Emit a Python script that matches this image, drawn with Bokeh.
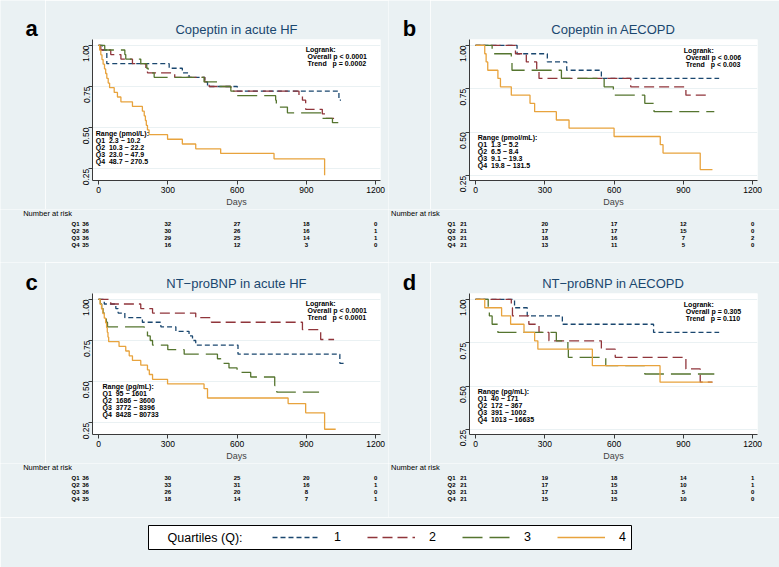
import math
from bokeh.plotting import figure
from bokeh.models import (Range1d, FixedTicker, PrintfTickFormatter, Label,
                          ColumnDataSource, Legend, LegendItem)
from bokeh.layouts import column, row
from bokeh.embed import file_html
from bokeh.resources import INLINE
from bokeh.core.properties import value

BG = "#eaf1f3"
FONT = "Liberation Sans"
COLORS = ["#1a476f", "#90353b", "#55752f", "#e8a33d"]
DASHES = ["5 3", "10 5", "20 7", "solid"]

day_ticks = [0, 300, 600, 900, 1200]
surv_ticks = [0.25, 0.50, 0.75, 1.00]
risk_days = [0, 300, 600, 900, 1200]
quartiles = ["Q1", "Q2", "Q3", "Q4"]
legend_labels = ["1", "2", "3", "4"]

# ---------- panel a: Copeptin in acute HF ----------
a_q1_t = [0, 17, 36, 306, 363, 392, 460, 472, 601, 1041, 1050]
a_q1_s = [1, .972, .889, .861, .833, .806, .778, .750, .722, .667, .667]
a_q2_t = [0, 10, 53, 97, 147, 205, 212, 330, 460, 479, 573, 868, 883, 897, 969, 984, 1020]
a_q2_s = [1, .972, .944, .917, .889, .861, .833, .806, .778, .750, .722, .694, .667, .611, .583, .556, .556]
a_q3_t = [0, 27, 114, 118, 183, 209, 215, 241, 457, 515, 573, 587, 767, 770, 818, 969, 1013, 1063]
a_q3_s = [1, .972, .944, .917, .889, .861, .833, .806, .778, .750, .722, .694, .667, .625, .590, .556, .530, .530]
a_q4_t = [0, 5, 10, 15, 20, 26, 31, 36, 42, 48, 68, 82, 97, 147, 190, 198, 203, 207, 212, 219, 299, 363, 421, 529, 760, 979]
a_q4_s = [1, .971, .943, .914, .886, .857, .829, .800, .771, .743, .714, .686, .657, .629, .600, .571, .543, .514, .486, .457, .429, .400, .371, .343, .310, .210]
a_risk = [[36, 32, 27, 18, 0], [36, 30, 26, 16, 1], [36, 29, 25, 14, 1], [35, 16, 12, 3, 0]]
a_logrank = ["Logrank:", "\u00a0Overall p < 0.0001", "\u00a0Trend\u00a0\u00a0\u00a0p = 0.0002"]
a_range = ["Range (pmol/L):", "Q1\u00a0\u00a02.3 \u2212 10.2", "Q2\u00a0\u00a010.3 \u2212 22.2",
           "Q3\u00a0\u00a023.0 \u2212 47.9", "Q4\u00a0\u00a048.7 \u2212 270.5"]

# ---------- panel b: Copeptin in AECOPD ----------
b_q1_t = [0, 180, 311, 395, 545, 1055]
b_q1_s = [1, .952, .905, .857, .810, .810]
b_q2_t = [0, 173, 220, 265, 275, 672, 911, 1005]
b_q2_s = [1, .952, .905, .857, .810, .762, .714, .714]
b_q3_t = [0, 72, 155, 158, 372, 557, 597, 733, 773, 1034]
b_q3_s = [1, .952, .905, .857, .810, .762, .714, .667, .619, .619]
b_q4_t = [0, 40, 46, 53, 97, 108, 155, 236, 256, 350, 405, 600, 800, 812, 973, 1026]
b_q4_s = [1, .952, .905, .857, .810, .762, .714, .667, .619, .571, .524, .476, .429, .381, .286, .286]
b_risk = [[21, 20, 17, 12, 0], [21, 17, 17, 15, 0], [21, 18, 16, 7, 2], [21, 13, 11, 5, 0]]
b_logrank = ["Logrank:", "\u00a0Overall p < 0.006", "\u00a0Trend\u00a0\u00a0\u00a0p < 0.003"]
b_range = ["Range (pmol/mL):", "Q1\u00a0\u00a01.3 \u2212 5.2", "Q2\u00a0\u00a06.5 \u2212 8.4",
           "Q3\u00a0\u00a09.1 \u2212 19.3", "Q4\u00a0\u00a019.8 \u2212 131.5"]

# ---------- panel c: NT-proBNP in acute HF ----------
c_q1_t = [0, 25, 75, 85, 114, 190, 270, 335, 392, 407, 421, 604, 1045, 1063]
c_q1_s = [1, .972, .944, .917, .889, .861, .833, .806, .778, .750, .722, .667, .611, .611]
c_q2_t = [0, 53, 183, 234, 421, 489, 883, 962, 1020]
c_q2_s = [1, .972, .944, .917, .889, .861, .816, .756, .756]
c_q3_t = [0, 8, 14, 20, 28, 34, 39, 198, 212, 224, 234, 300, 371, 515, 529, 565, 600, 659, 763, 772, 955]
c_q3_s = [1, .972, .944, .917, .889, .861, .833, .806, .778, .750, .722, .694, .667, .639, .611, .583, .556, .528, .476, .436, .436]
c_q4_t = [0, 7, 13, 19, 25, 31, 35, 38, 41, 44, 89, 118, 133, 147, 183, 212, 220, 234, 299, 457, 472, 821, 897, 979, 1027]
c_q4_s = [1, .971, .943, .914, .886, .857, .829, .800, .771, .743, .714, .686, .657, .629, .600, .571, .543, .514, .486, .457, .400, .366, .310, .210, .210]
c_risk = [[36, 30, 25, 20, 0], [36, 33, 31, 16, 1], [36, 26, 20, 8, 0], [35, 18, 14, 7, 1]]
c_logrank = ["Logrank:", "\u00a0Overall p < 0.0001", "\u00a0Trend\u00a0\u00a0\u00a0p < 0.0001"]
c_range = ["Range (pg/mL):", "Q1\u00a0\u00a095 \u2212 1601", "Q2\u00a0\u00a01686 \u2212 3600",
           "Q3\u00a0\u00a03772 \u2212 8396", "Q4\u00a0\u00a08428 \u2212 80733"]

# ---------- panel d: NT-proBNP in AECOPD ----------
d_q1_t = [0, 169, 224, 376, 771, 1055]
d_q1_s = [1, .952, .905, .857, .810, .810]
d_q2_t = [0, 155, 160, 231, 275, 318, 545, 605, 911, 973, 1026]
d_q2_s = [1, .952, .905, .857, .810, .762, .714, .667, .600, .524, .524]
d_q3_t = [0, 55, 60, 72, 97, 350, 400, 402, 564, 733, 1034]
d_q3_s = [1, .952, .905, .857, .810, .762, .714, .667, .619, .571, .571]
d_q4_t = [0, 40, 113, 152, 210, 256, 270, 506, 799, 1026]
d_q4_s = [1, .952, .905, .857, .810, .762, .714, .619, .524, .524]
d_risk = [[21, 19, 18, 14, 1], [21, 17, 15, 10, 1], [21, 17, 13, 5, 0], [21, 15, 15, 10, 0]]
d_logrank = ["Logrank:", "\u00a0Overall p = 0.305", "\u00a0Trend\u00a0\u00a0\u00a0p = 0.110"]
d_range = ["Range (pg/mL):", "Q1\u00a0\u00a040 \u2212 171", "Q2\u00a0\u00a0172 \u2212 367",
           "Q3\u00a0\u00a0391 \u2212 1002", "Q4\u00a0\u00a01013 \u2212 16635"]

X_LO, X_HI = -26, 1221
FRAME_W = 288
FRAME_H = 143
PX_PER_DAY = FRAME_W / (X_HI - X_LO)


def make_letter(width, height, letter, xc, baseline_from_top):
    # strip whose y axis counts pixels downward from its top edge
    p = figure(width=width, height=height, x_range=Range1d(0, width),
               y_range=Range1d(height, 0), output_backend="svg", title=None,
               toolbar_location=None, min_border=0, x_axis_location=None,
               y_axis_location=None, background_fill_color=BG,
               border_fill_color=BG, outline_line_color=None)
    p.grid.visible = False
    p.text(x=[xc], y=[baseline_from_top], text=[letter], text_font=value(FONT),
           text_font_size="22px", text_font_style="bold", text_align="center",
           text_baseline="alphabetic", text_color="black")
    # wrap so that the row does not align this strip's frame with the KM frame
    return column(p, width=width, height=height)


def make_km(title, curves, y_lo, y_hi, width, left, top, logrank, rng,
            lr_xy, rng_xy):
    height = top + FRAME_H + 27
    p = figure(width=width, height=height, x_range=Range1d(X_LO, X_HI),
               y_range=Range1d(y_lo, y_hi), output_backend="svg",
               toolbar_location=None, min_border_left=left,
               min_border_right=width - left - FRAME_W, min_border_top=top,
               min_border_bottom=27, background_fill_color="white",
               border_fill_color=BG, outline_line_color=None)
    p.title.text = title
    p.title.align = "center"
    p.title.text_font = FONT
    p.title.text_font_size = "13px"
    p.title.text_font_style = "normal"
    p.title.text_color = "#1a476f"
    p.title.standoff = 6

    for (t, s), col, dash in zip(curves, COLORS, DASHES):
        src = ColumnDataSource(dict(t=t, s=s))
        p.step("t", "s", source=src, mode="after", line_color=col,
               line_dash=dash, line_width=1.3)

    p.xgrid.grid_line_color = None
    p.ygrid.grid_line_color = BG
    p.ygrid.grid_line_width = 1
    p.ygrid.ticker = FixedTicker(ticks=surv_ticks)

    p.xaxis.ticker = FixedTicker(ticks=day_ticks)
    p.yaxis.ticker = FixedTicker(ticks=surv_ticks)
    p.yaxis.formatter = PrintfTickFormatter(format="%.2f")
    p.yaxis.major_label_orientation = math.pi / 2
    p.xaxis.axis_label = "Days"
    p.xaxis.axis_label_text_font = FONT
    p.xaxis.axis_label_text_font_size = "9px"
    p.xaxis.axis_label_text_font_style = "normal"
    p.xaxis.axis_label_standoff = 1
    for ax in (p.xaxis, p.yaxis):
        ax.major_label_text_font = FONT
        ax.major_label_text_font_size = "8.5px"
        ax.major_label_text_color = "black"
        ax.major_label_standoff = 2
        ax.axis_line_color = "#3a3a3a"
        ax.major_tick_line_color = "#3a3a3a"
        ax.major_tick_out = 4
        ax.major_tick_in = 0
        ax.minor_tick_line_color = None

    p.add_layout(Label(x=lr_xy[0], y=lr_xy[1], text="\n".join(logrank),
                       text_font=FONT, text_font_size="7px",
                       text_font_style="bold", text_baseline="top",
                       text_line_height=1.0, text_color="black"))
    p.add_layout(Label(x=rng_xy[0], y=rng_xy[1], text="\n".join(rng),
                       text_font=FONT, text_font_size="7px",
                       text_font_style="bold", text_baseline="top",
                       text_line_height=1.0, text_color="black"))
    return p


def make_risk(width, height, left, counts, header_px, qlab_px, first_off):
    x_lo = X_LO - left / PX_PER_DAY
    x_hi = X_LO + (width - left) / PX_PER_DAY
    p = figure(width=width, height=height, x_range=Range1d(x_lo, x_hi),
               y_range=Range1d((height - 14) / 7.0, -2), output_backend="svg",
               title=None, toolbar_location=None, min_border=0,
               x_axis_location=None, y_axis_location=None,
               background_fill_color=BG, border_fill_color=BG,
               outline_line_color=None)
    p.grid.visible = False
    hx = x_lo + header_px / PX_PER_DAY
    qx = x_lo + qlab_px / PX_PER_DAY
    p.text(x=[hx], y=[-10 / 7.0], text=["Number at risk"], text_font=value(FONT),
           text_font_size="7.5px", text_baseline="middle", text_align="left",
           text_color="black")
    p.text(x=[qx] * 4, y=list(range(4)), text=quartiles, text_font=value(FONT),
           text_font_size="6px", text_font_style="bold",
           text_baseline="middle", text_align="left", text_color="black")
    xs, ys, tx, offs = [], [], [], []
    for r, vals in enumerate(counts):
        for j, v in enumerate(vals):
            xs.append(risk_days[j]); ys.append(r); tx.append(str(v))
            offs.append(first_off if j == 0 else 0)
    src = ColumnDataSource(dict(x=xs, y=ys, text=tx, off=offs))
    p.text("x", "y", text="text", x_offset="off", source=src,
           text_font=value(FONT), text_font_size="6px",
           text_font_style="bold", text_baseline="middle",
           text_align="center", text_color="black")
    return p


LW, RW = 388, 391          # column widths
LET_L, LET_R = 45, 42       # letter strip widths
TOP1, TOP3 = 39, 31         # top borders of KM rows

km_a = make_km("Copeptin in acute HF",
               [(a_q1_t, a_q1_s), (a_q2_t, a_q2_s), (a_q3_t, a_q3_s), (a_q4_t, a_q4_s)],
               0.178, 1.036, LW - LET_L, 92 - LET_L, TOP1, a_logrank, a_range,
               (897, 0.995), (-12, 0.486))
km_b = make_km("Copeptin in AECOPD",
               [(b_q1_t, b_q1_s), (b_q2_t, b_q2_s), (b_q3_t, b_q3_s), (b_q4_t, b_q4_s)],
               0.223, 1.034, RW - LET_R, 81 - LET_R, TOP1, b_logrank, b_range,
               (902, 0.99), (10, 0.492))
km_c = make_km("NT\u2212proBNP in acute HF",
               [(c_q1_t, c_q1_s), (c_q2_t, c_q2_s), (c_q3_t, c_q3_s), (c_q4_t, c_q4_s)],
               0.178, 1.036, LW - LET_L, 92 - LET_L, TOP3, c_logrank, c_range,
               (897, 0.995), (17, 0.493))
km_d = make_km("NT\u2212proBNP in AECOPD",
               [(d_q1_t, d_q1_s), (d_q2_t, d_q2_s), (d_q3_t, d_q3_s), (d_q4_t, d_q4_s)],
               0.223, 1.034, RW - LET_R, 81 - LET_R, TOP3, d_logrank, d_range,
               (902, 0.99), (10, 0.488))

let_a = make_letter(LET_L, km_a.height, "a", 31, TOP1 - 11)
let_b = make_letter(LET_R, km_b.height, "b", 21, TOP1 - 11)
let_c = make_letter(LET_L, km_c.height, "c", 31, TOP3 - 11)
let_d = make_letter(LET_R, km_d.height, "d", 21, TOP3 - 11)

risk_a = make_risk(LW, 53, 92, a_risk, 22.7, 71, -13)
risk_b = make_risk(RW, 53, 81, b_risk, 2.5, 59, -12)
risk_c = make_risk(LW, 54, 92, c_risk, 22.7, 71, -13)
risk_d = make_risk(RW, 54, 81, d_risk, 2.5, 59, -12)

# ---------- legend ----------
BOX_L, BOX_W, BOX_H = 148, 483, 24
leg = figure(width=LW + RW, height=50, x_range=Range1d(0, 1), y_range=Range1d(0, 1),
             output_backend="svg", title=None, toolbar_location=None,
             min_border_left=BOX_L, min_border_right=LW + RW - BOX_L - BOX_W,
             min_border_top=8, min_border_bottom=50 - 8 - BOX_H,
             x_axis_location=None, y_axis_location=None,
             background_fill_color="white", border_fill_color=BG,
             outline_line_color="black", outline_line_width=1)
leg.grid.visible = False
items = []
for lab, col, dash in zip(legend_labels, COLORS, DASHES):
    r = leg.line(x=[float("nan")], y=[float("nan")], line_color=col,
                 line_dash=dash, line_width=1.3)
    items.append(LegendItem(label=lab, renderers=[r]))
legend = Legend(items=items, orientation="horizontal", location=(124, 2),
                glyph_width=48, glyph_height=20, label_standoff=14, spacing=26,
                padding=0, margin=0, border_line_alpha=0, background_fill_alpha=0,
                label_text_font=FONT, label_text_font_size="12.5px",
                label_width=7, label_height=20, label_text_color="black")
leg.add_layout(legend)
leg.add_layout(Label(x=19, y=12, x_units="screen", y_units="screen",
                     text="Quartiles (Q):", text_font=FONT,
                     text_font_size="12.5px", text_baseline="middle",
                     text_color="black"))

layout = column(row(let_a, km_a, let_b, km_b),
                row(risk_a, risk_b),
                row(let_c, km_c, let_d, km_d),
                row(risk_c, risk_d),
                leg)

open("out.html", "w").write(file_html(layout, INLINE))
